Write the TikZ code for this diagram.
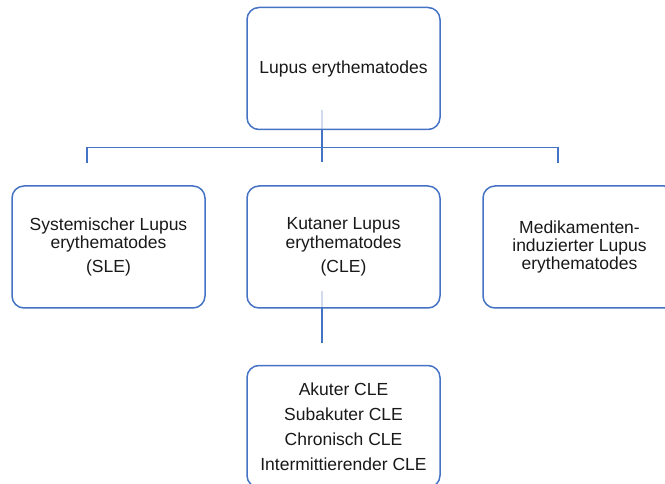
\documentclass[tikz,border=0pt]{standalone}
\usepackage{fontspec}
\setmainfont{Liberation Sans}
\usetikzlibrary{backgrounds}
\definecolor{boxblue}{HTML}{4472C4}

\begin{document}
\begin{tikzpicture}[
		x=1pt, y=1pt,
		link/.style={draw=boxblue, line width=1.3pt},
		box/.style={draw=boxblue, line width=1.5pt, rounded corners=12pt, fill=white, fill opacity=0.75, text opacity=1, minimum width=193pt, minimum height=122pt, align=center, text=black!90, font=\fontsize{17.5}{18.3}\selectfont},
	]
		\useasboundingbox (0,0) rectangle (665,-484);
		\node at (343.5,-68.5) (lupus) [box] {Lupus erythematodes};
		\node at (108.5,-247) (sle) [box] {Systemischer Lupus\\erythematodes\\[6pt](SLE)};
		\node at (343.5,-247) (cle) [box] {Kutaner Lupus\\erythematodes\\[6pt](CLE)};
		\node at (579.5,-247) (dile) [box] {Medikamenten-\\induzierter Lupus\\erythematodes};
		\node at (343.5,-426.5) (subtypes) [box, font=\fontsize{17.5}{25}\selectfont] {Akuter CLE\\Subakuter CLE\\Chronisch CLE\\Intermittierender CLE};
		
		\begin{scope}[on background layer]
			\draw[link] ([xshift=-21.5pt,yshift=20pt]lupus.south) -- ([xshift=-21.5pt,yshift=23pt]cle.north);
			\draw[link] ([xshift=-21.5pt,yshift=22pt]sle.north) -- ++(0,16) -| ([xshift=-21.5pt,yshift=22pt]dile.north);
			\draw[link] ([xshift=-21.5pt,yshift=18pt]cle.south) -- ([xshift=-21.5pt,yshift=22pt]subtypes.north);
		\end{scope}
	\end{tikzpicture}
\end{document}
